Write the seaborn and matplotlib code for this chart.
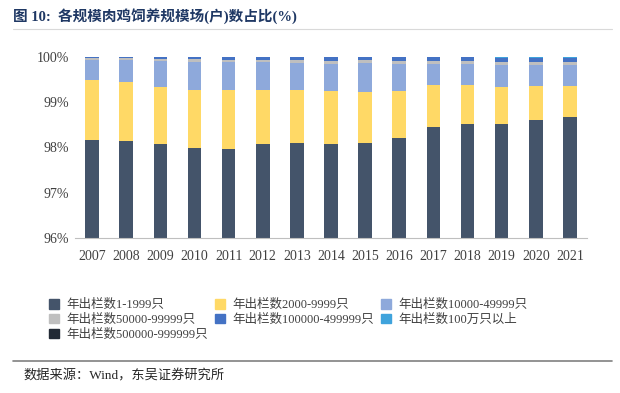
import seaborn as sns
import matplotlib.pyplot as plt
import matplotlib.patches as mpatches
import pandas as pd
import numpy as np

sns.set_style("white")
plt.rcParams['font.family'] = ['Liberation Serif', 'Noto Sans CJK SC']

# 数据（%）
years = ['2007', '2008', '2009', '2010', '2011', '2012', '2013', '2014',
         '2015', '2016', '2017', '2018', '2019', '2020', '2021']
s_1_1999 = [98.17, 98.14, 98.07, 97.98, 97.96, 98.07, 98.09, 98.08,
            98.09, 98.21, 98.45, 98.52, 98.51, 98.60, 98.67]
s_2000_9999 = [1.32, 1.30, 1.27, 1.30, 1.31, 1.20, 1.19, 1.17,
               1.13, 1.04, 0.93, 0.87, 0.83, 0.76, 0.68]
s_10000_49999 = [0.45, 0.49, 0.57, 0.61, 0.61, 0.61, 0.59, 0.60,
                 0.64, 0.59, 0.46, 0.45, 0.48, 0.46, 0.47]
s_50000_99999 = [0.03, 0.04, 0.05, 0.06, 0.06, 0.06, 0.06, 0.07,
                 0.07, 0.07, 0.07, 0.07, 0.07, 0.07, 0.07]
s_100000_499999 = [0.025, 0.025, 0.035, 0.045, 0.05, 0.05, 0.06, 0.07,
                   0.06, 0.08, 0.08, 0.08, 0.095, 0.095, 0.09]
s_100w = [0.002, 0.002, 0.002, 0.002, 0.005, 0.005, 0.005, 0.005,
          0.005, 0.005, 0.005, 0.005, 0.008, 0.008, 0.015]
s_500000_999999 = [0.003, 0.003, 0.003, 0.003, 0.005, 0.005, 0.005, 0.005,
                   0.005, 0.005, 0.005, 0.005, 0.007, 0.007, 0.005]

labels = ['年出栏数1-1999只', '年出栏数2000-9999只', '年出栏数10000-49999只',
          '年出栏数50000-99999只', '年出栏数100000-499999只', '年出栏数100万只以上',
          '年出栏数500000-999999只']
colors = ['#44546A', '#FFD966', '#8EA9DB', '#BFBFBF', '#4472C4', '#3FA3DC', '#222A35']
series = [s_1_1999, s_2000_9999, s_10000_49999, s_50000_99999,
          s_100000_499999, s_100w, s_500000_999999]

df = pd.DataFrame({'year': years})
cum = np.cumsum(np.array(series), axis=0)

fig = plt.figure(figsize=(6.2, 3.93), dpi=100)
ax = fig.add_axes([75 / 620, 1 - 238 / 393, (587 - 75) / 620, (238 - 57) / 393])

# 堆叠：从最高的累计值开始画
for i in range(len(series) - 1, -1, -1):
    df['v'] = cum[i]
    sns.barplot(data=df, x='year', y='v', color=colors[i], width=0.4,
                saturation=1, ax=ax, linewidth=0)

ax.set_ylim(96, 100)
ax.set_xlim(-0.5, 14.5)
ax.set_yticks([96, 97, 98, 99, 100])
ax.set_yticklabels(['96%', '97%', '98%', '99%', '100%'])
ax.set_xlabel('')
ax.set_ylabel('')
for sp in ['top', 'right', 'left']:
    ax.spines[sp].set_visible(False)
ax.spines['bottom'].set_color('#BFBFBF')
ax.set_xticks(np.arange(-0.5, 15, 1), minor=True)
ax.tick_params(axis='x', which='major', length=0, labelsize=10, colors='#404040', pad=9)
ax.tick_params(axis='x', which='minor', length=4, color='#BFBFBF', width=0.8)
ax.tick_params(axis='y', length=0, labelsize=10, colors='#404040', pad=4)

# 图例
handles = [mpatches.Patch(color=c, label=l) for c, l in zip(colors, labels)]
order = [0, 3, 6, 1, 4, 2, 5]
fig.legend([handles[i] for i in order], [labels[i] for i in order],
           ncol=3, loc='upper left', bbox_to_anchor=(38 / 620, 1 - 288 / 393),
           frameon=False, fontsize=9, handlelength=0.75, handleheight=0.75,
           handletextpad=0.6, columnspacing=0.6, labelspacing=0.2,
           labelcolor='#404040')

# 标题和来源
fig.text(13 / 620, 1 - 16 / 393, '图 10:  各规模肉鸡饲养规模场(户)数占比(%)',
         fontsize=10.5, fontweight='bold', color='#1F3864', va='center')
fig.add_artist(plt.Line2D([13 / 620, 612 / 620], [1 - 29 / 393, 1 - 29 / 393],
                          color='#D9D9D9', lw=0.8))
fig.add_artist(plt.Line2D([13 / 620, 612 / 620], [1 - 361 / 393, 1 - 361 / 393],
                          color='#808080', lw=1.2))
fig.text(23 / 620, 1 - 376 / 393, '数据来源：Wind，东吴证券研究所',
         fontsize=9.5, color='#262626', va='center')

fig.savefig('out.png', dpi=100)
